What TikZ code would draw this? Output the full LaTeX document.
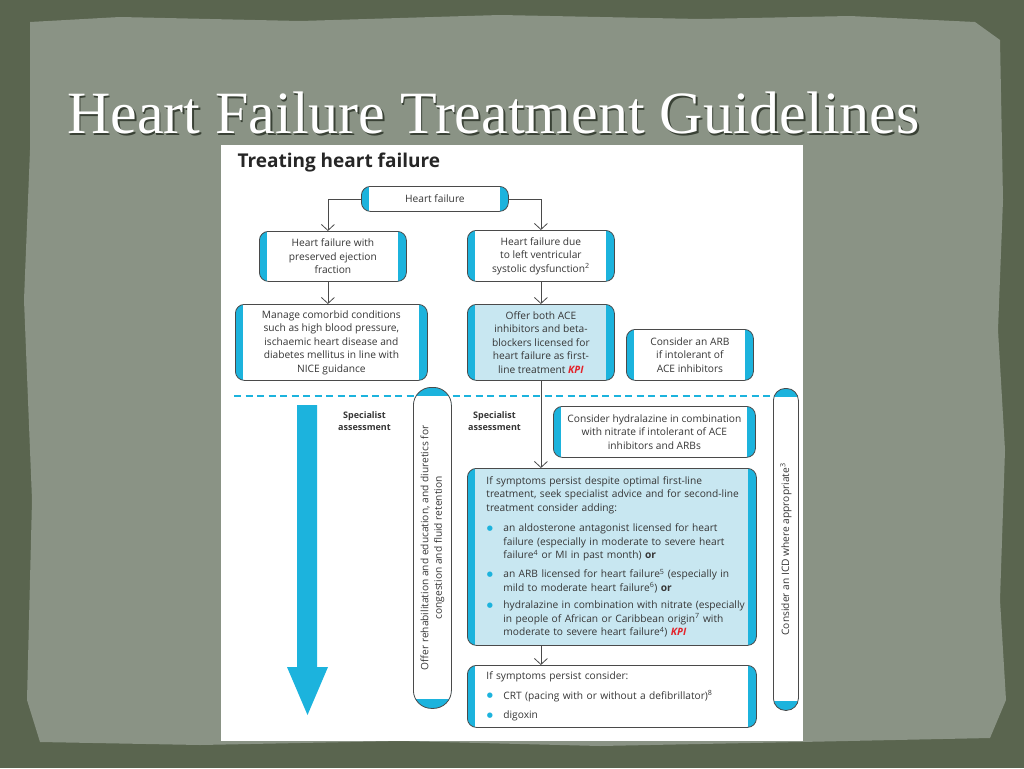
\documentclass[tikz,border=0pt]{standalone}
\usepackage{fontspec}
\setmainfont{Open Sans}
\newfontfamily\slidefont{Liberation Serif}
\newfontfamily\dotfont{DejaVu Sans}
\usetikzlibrary{arrows.meta,positioning}
\definecolor{hfcyan}{HTML}{1CB3DD}
\definecolor{hfpale}{HTML}{C8E7F1}
\definecolor{hfline}{HTML}{4A4A4A}
\definecolor{hftext}{HTML}{363636}
\definecolor{hfred}{HTML}{E3242B}
\definecolor{slidedark}{HTML}{5A654F}
\definecolor{slidepaper}{HTML}{8A9385}
\definecolor{slideshade}{HTML}{3A4236}
\newcommand{\kpi}{\textcolor{hfred}{\textbf{\textit{KPI}}}}
\newcommand{\hfbul}{\makebox[17pt][l]{\hspace{0.5pt}\raisebox{1.2pt}{\textcolor{hfcyan}{\dotfont\fontsize{7}{7}\selectfont ●}}}}
\newcommand{\hfitem}[1]{\hfbul\parbox[t]{247pt}{#1}}
\begin{document}
\begin{tikzpicture}[x=1pt, y=-1pt, text=hftext,
  font=\fontsize{10.2}{13.5}\selectfont,
  stripebox/.style={draw=hfline, line width=0.8pt, rounded corners=9pt, fill=hfcyan,
    align=center, inner sep=0pt, anchor=north west,
    path picture={\fill[#1, sharp corners] ([xshift=8pt]path picture bounding box.south west)
      rectangle ([xshift=-8pt]path picture bounding box.north east);}},
  stripebox/.default=white,
  pillbox/.style={draw=hfline, line width=0.8pt, rounded corners=#1, fill=hfcyan,
    inner sep=0pt, anchor=north west,
    path picture={\fill[white, sharp corners] ([yshift=9pt]path picture bounding box.south west)
      rectangle ([yshift=-9pt]path picture bounding box.north east);}},
  flow/.style={draw=hfline, line width=0.8pt, -{Straight Barb[length=6pt,width=13pt]}},
  note/.style={font=\fontsize{9}{12}\selectfont\bfseries, align=center}]
  \useasboundingbox (0,0) rectangle (1024,768);
  \fill[slidedark] (0,0) rectangle (1024,768);
  \fill[slidepaper] (30,22) -- (120,17) -- (300,21) -- (500,15) -- (700,19) -- (850,16)
    -- (975,22) -- (1000,40) -- (1003,200) -- (998,330) -- (1005,450) -- (1000,600)
    -- (1006,700) -- (990,738) -- (800,742) -- (600,746) -- (400,741) -- (200,745)
    -- (40,742) -- (27,700) -- (32,500) -- (24,300) -- (30,150) -- cycle;
  \node[text=slideshade, font=\slidefont\fontsize{60}{64}\selectfont, anchor=base]
    (titleshade) at (495,135) {Heart Failure Treatment Guidelines};
  \node[text=white, font=\slidefont\fontsize{60}{64}\selectfont, anchor=base]
    (title) at (493.5,133) {Heart Failure Treatment Guidelines};
  \fill[white] (221,145) rectangle (803,741);
  \node[font=\fontsize{19}{21}\selectfont\bfseries, text=black!85, anchor=base west]
    (heading) at (234,167) {Treating heart failure};

  \node[stripebox, minimum width=147pt, minimum height=25pt] (hf) at (361,186) {Heart failure};
  \node[stripebox, minimum width=147pt, minimum height=50pt] (pef) at (259,231)
    {Heart failure with\\preserved ejection\\fraction};
  \node[stripebox, minimum width=147pt, minimum height=51pt] (lvsd) at (467,230)
    {Heart failure due\\to left ventricular\\systolic dysfunction\textsuperscript{2}};
  \node[stripebox, minimum width=192pt, minimum height=76pt] (manage) at (235,304)
    {Manage comorbid conditions\\such as high blood pressure,\\ischaemic heart disease and\\diabetes mellitus in line with\\NICE guidance};
  \node[stripebox=hfpale, minimum width=147pt, minimum height=76pt] (offer) at (467,304)
    {Offer both ACE\\inhibitors and beta-\\blockers licensed for\\heart failure as first-\\line treatment \kpi};
  \node[stripebox, minimum width=127pt, minimum height=51pt] (arb) at (626,329)
    {Consider an ARB\\if intolerant of\\ACE inhibitors};

  \draw[hfcyan, line width=1.6pt, dash pattern=on 7pt off 4.5pt] (234,396) -- (773,396);
  \fill[hfcyan] (297,405) -- (317,405) -- (317,667) -- (328,667) -- (307.5,715)
    -- (287,667) -- (297,667) -- cycle;
  \node[note] (specleft) at (364.5,421) {Specialist\\assessment};
  \node[note] (specmid) at (494.5,421) {Specialist\\assessment};

  \node[pillbox=18pt, minimum width=38pt, minimum height=321pt] (rehab) at (413,387) {};
  \node[rotate=90, align=center] (rehabtext) at (rehab.center)
    {Offer rehabilitation and education, and diuretics for\\congestion and fluid retention};
  \node[pillbox=12pt, minimum width=25pt, minimum height=322pt] (icd) at (773,388) {};
  \node[rotate=90] (icdtext) at (icd.center) {Consider an ICD where appropriate\textsuperscript{3}};

  \node[stripebox, minimum width=202pt, minimum height=51pt] (hydr) at (553,406)
    {Consider hydralazine in combination\\with nitrate if intolerant of ACE\\inhibitors and ARBs};
  \node[stripebox=hfpale, align=left, text width=276pt, minimum width=289pt, minimum height=177pt]
    (second) at (467,468) {\leftskip=12.5pt
    If symptoms persist despite optimal first-line\\treatment, seek specialist advice and for second-line\\treatment consider adding:\par
    \vspace{7pt}\hfitem{an aldosterone antagonist licensed for heart\\failure (especially in moderate to severe heart\\failure\textsuperscript{4} or MI in past month) \textbf{or}}\par
    \vspace{7pt}\hfitem{an ARB licensed for heart failure\textsuperscript{5} (especially in\\mild to moderate heart failure\textsuperscript{6}) \textbf{or}}\par
    \vspace{7pt}\hfitem{hydralazine in combination with nitrate (especially\\in people of African or Caribbean origin\textsuperscript{7} with\\moderate to severe heart failure\textsuperscript{4}) \kpi}\par};
  \node[stripebox, align=left, text width=276pt, minimum width=289pt, minimum height=62pt]
    (last) at (467,665) {\leftskip=12.5pt
    If symptoms persist consider:\par
    \vspace{6pt}\hfitem{CRT (pacing with or without a defibrillator)\textsuperscript{8}}\par
    \vspace{6pt}\hfitem{digoxin}\par};

  \draw[flow] (hf.west) -| ([xshift=-5pt]pef.north);
  \draw[flow] (hf.east) -| (lvsd.north);
  \draw[flow] ([xshift=-5pt]pef.south) -- ([xshift=-5pt]pef.south |- manage.north);
  \draw[flow] (lvsd) -- (offer);
  \draw[flow] (offer.south) -- (offer.south |- second.north);
  \draw[flow] (offer.south |- second.south) -- (offer.south |- last.north);
\end{tikzpicture}
\end{document}
